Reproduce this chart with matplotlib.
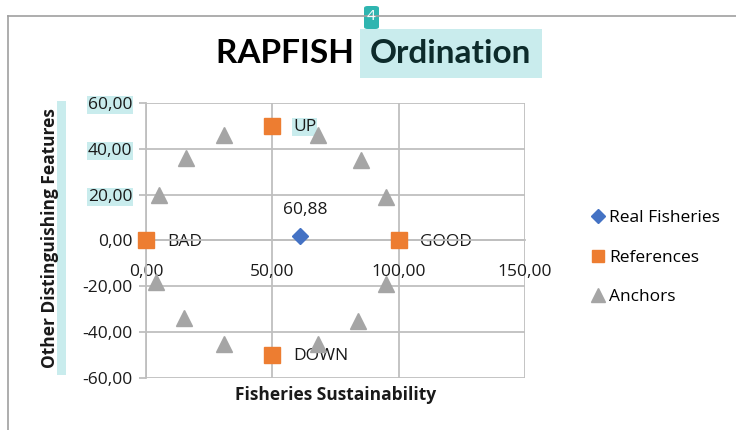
import matplotlib.pyplot as plt
from matplotlib.patches import Rectangle, FancyBboxPatch

plt.rcParams['font.family'] = ['Open Sans', 'DejaVu Sans']

# data
real_x = [60.88]
real_y = [2.0]
real_labels = ['60,88']

ref_x = [0, 100, 50, 50]
ref_y = [0, 0, 50, -50]
ref_labels = ['BAD', 'GOOD', 'UP', 'DOWN']

anchor_x = [5, 16, 31, 68, 85, 95, 95, 84, 68, 31, 15, 4]
anchor_y = [20, 36, 46, 46, 35, 19, -19, -35, -45, -45, -34, -18]

x_ticks = [0, 50, 100, 150]
y_ticks = [-60, -40, -20, 0, 20, 40, 60]

blue = '#4472c4'
orange = '#ed7d31'
grey = '#a5a5a5'
hl = '#c9eced'
gridc = '#bfbfbf'
txt = '#1a1a1a'

fig = plt.figure(figsize=(7.36, 4.3), dpi=100)
ax = fig.add_axes([0.1984, 0.1209, 0.515, 0.6396])
ax.spines['bottom'].set_position(('data', 0))

ax.plot(real_x, real_y, 'D', color=blue, markersize=8, label='Real Fisheries',
        zorder=3, clip_on=False)
ax.plot(ref_x, ref_y, 's', color=orange, markersize=11, label='References',
        zorder=3, clip_on=False)
ax.plot(anchor_x, anchor_y, '^', color=grey, markersize=12, label='Anchors',
        zorder=3, clip_on=False)

for x, y, t in zip(ref_x, ref_y, ref_labels):
    bb = dict(boxstyle='square,pad=0.05', fc=hl, ec='none') if t == 'UP' else None
    ax.annotate(t, (x, y), xytext=(15, -1), textcoords='offset points',
                ha='left', va='center', fontsize=12.5, color=txt, bbox=bb, zorder=2)
for x, y, t in zip(real_x, real_y, real_labels):
    ax.annotate(t, (x, y), xytext=(4, 13), textcoords='offset points',
                ha='center', va='bottom', fontsize=12.5, color=txt)

ax.set_xlim(0, 150)
ax.set_ylim(-60, 60)
ax.set_xticks(x_ticks)
ax.set_yticks(y_ticks)
ax.set_xticklabels([f'{v:.2f}'.replace('.', ',') for v in x_ticks], fontsize=12.5, color=txt)
ax.set_yticklabels([f'{v:.2f}'.replace('.', ',') for v in y_ticks], fontsize=12.5, color=txt)
for lab in ax.get_yticklabels():
    if lab.get_text() in ('60,00', '40,00', '20,00'):
        lab.set_bbox(dict(boxstyle='square,pad=0.05', fc=hl, ec='none'))

for s in ['top', 'right']:
    ax.spines[s].set_visible(False)
ax.spines['left'].set_color(gridc)
ax.spines['bottom'].set_color(gridc)
ax.spines['left'].set_linewidth(1.3)
ax.spines['bottom'].set_linewidth(1.3)
ax.tick_params(axis='x', length=0, pad=17)
ax.tick_params(axis='y', length=5, width=1.3, color=gridc, pad=5)
ax.grid(True, color=gridc, linewidth=1.3, zorder=0)
ax.set_axisbelow(True)
ax.patch.set_visible(False)

fig.text(0.456, 0.081, 'Fisheries Sustainability', ha='center', va='center',
         fontsize=12.5, fontweight='bold', color=txt)
fig.patches.append(Rectangle((57 / 736, 1 - 375 / 430), 9 / 736, 274 / 430,
                             transform=fig.transFigure, fc=hl, ec='none', zorder=0))
fig.text(0.068, 0.447, 'Other Distinguishing Features', ha='center', va='center',
         rotation=90, fontsize=12.5, fontweight='bold', color=txt, zorder=2)

fig.text(0.492, 0.875, 'RAPFISH ', ha='right', va='center', family=['Lato', 'DejaVu Sans'],
         fontsize=24, fontweight='bold', color='black')
fig.text(0.503, 0.875, 'Ordination', ha='left', va='center', family=['Lato', 'DejaVu Sans'],
         fontsize=24, fontweight='bold', color='#0d2b2b',
         bbox=dict(boxstyle='square,pad=0.3', fc=hl, ec='none'))

# page number badge
fig.patches.append(FancyBboxPatch((364 / 736, 1 - 29 / 430), 15 / 736, 23 / 430,
                                  boxstyle='round,pad=0,rounding_size=0.005',
                                  transform=fig.transFigure, fc='#2fb5b0', ec='none'))
fig.text(371.5 / 736, 1 - 17 / 430, '4', ha='center', va='center', fontsize=11, color='white')

# outer frame
fig.add_artist(plt.Line2D([8 / 736, 1], [1 - 16 / 430, 1 - 16 / 430],
                          transform=fig.transFigure, color='#a0a0a0', linewidth=1.2))
fig.add_artist(plt.Line2D([8 / 736, 8 / 736], [0, 1 - 16 / 430],
                          transform=fig.transFigure, color='#a0a0a0', linewidth=1.2))

fig.legend(loc='center left', bbox_to_anchor=(0.779, 0.401), frameon=False,
           fontsize=12.5, handletextpad=0.15, labelspacing=1.35, handlelength=1.0,
           markerscale=0.85)

fig.savefig('out.png', dpi=100)
